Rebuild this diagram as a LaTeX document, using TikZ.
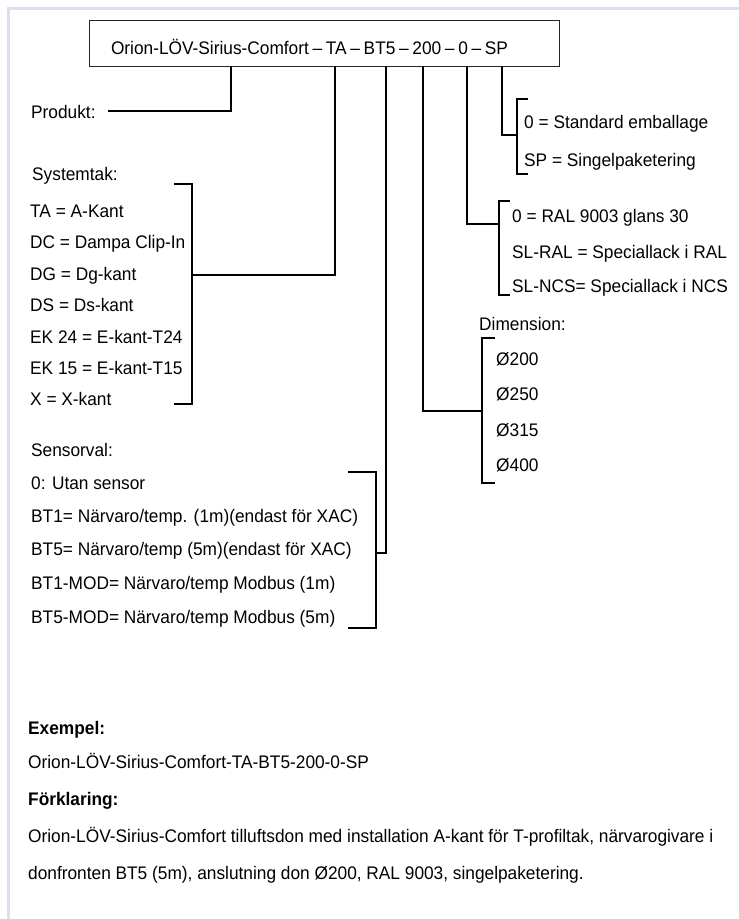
\documentclass[tikz,border=0pt]{standalone}
\usepackage{fontspec}
\setmainfont{Liberation Sans}[FakeStretch=0.95]
\usepackage{tikz}
\usepackage{xcolor}
\definecolor{framebl}{HTML}{DADFF2}

\begin{document}
\begin{tikzpicture}[
  x=1pt, y=-1pt,
  font=\fontsize{18.2}{22}\selectfont,
  lbl/.style={anchor=base west, inner sep=0pt},
  head/.style={anchor=base west, inner sep=0pt, font=\fontsize{18.2}{22}\selectfont\bfseries},
  codebox/.style={draw=black!85, line width=1pt, minimum width=470pt, minimum height=46pt, text width=426pt, align=left, text height=23pt, text depth=0pt, inner sep=0pt},
  ln/.style={line width=1.3pt},
  frame/.style={draw=framebl, line width=2.5pt}
]
\useasboundingbox (0,0) rectangle (739,919);
\draw[frame] (8.7,919) -- (8.7,8.7) -- (739,8.7);
\node[codebox] (code) at (324,43) {\spaceskip=3.7pt plus 1pt Orion-LÖV-Sirius-Comfort – TA – BT5 – 200 – 0 – SP};
\node[lbl] (produkt) at (31,118) {Produkt:};
\node[lbl] (systemtak) at (32,180) {Systemtak:};
\node[lbl] (ta) at (30,217) {TA = A-Kant};
\node[lbl] (dc) at (30,248) {DC = Dampa Clip-In};
\node[lbl] (dg) at (30,280) {DG = Dg-kant};
\node[lbl] (ds) at (30,311) {DS = Ds-kant};
\node[lbl] (ek24) at (30,343) {EK 24 = E-kant-T24};
\node[lbl] (ek15) at (30,374) {EK 15 = E-kant-T15};
\node[lbl] (xk) at (30,405) {X = X-kant};
\node[lbl] (sensorval) at (31,456) {Sensorval:};
\node[lbl] (utan) at (31,489) {0: Utan sensor};
\node[lbl] (bt1) at (31,522) {BT1= Närvaro/temp. (1m)(endast för XAC)};
\node[lbl] (bt5) at (31,555) {BT5= Närvaro/temp (5m)(endast för XAC)};
\node[lbl] (bt1mod) at (31,589) {BT1-MOD= Närvaro/temp Modbus (1m)};
\node[lbl] (bt5mod) at (31,623) {BT5-MOD= Närvaro/temp Modbus (5m)};
\node[lbl] (std) at (524,128) {0 = Standard emballage};
\node[lbl] (singel) at (524,166) {SP = Singelpaketering};
\node[lbl] (ral) at (512,222) {0 = RAL 9003 glans 30};
\node[lbl] (slral) at (512,258) {SL-RAL = Speciallack i RAL};
\node[lbl] (slncs) at (512,292) {SL-NCS= Speciallack i NCS};
\node[lbl] (dimension) at (479,330) {Dimension:};
\node[lbl] (d200) at (496,365) {Ø200};
\node[lbl] (d250) at (496,400) {Ø250};
\node[lbl] (d315) at (496,436) {Ø315};
\node[lbl] (d400) at (496,471) {Ø400};
\node[head] (exempel) at (28,734) {Exempel:};
\node[lbl] (exline) at (28,768) {Orion-LÖV-Sirius-Comfort-TA-BT5-200-0-SP};
\node[head] (forklaring) at (28,805) {Förklaring:};
\node[lbl] (forkl1) at (28,842) {Orion-LÖV-Sirius-Comfort tilluftsdon med installation A-kant för T-profiltak, närvarogivare i};
\node[lbl] (forkl2) at (28,879) {donfronten BT5 (5m), anslutning don Ø200, RAL 9003, singelpaketering.};
\coordinate (tprod) at (231,66);
\coordinate (tta) at (335,66);
\coordinate (tbt) at (386,66);
\coordinate (tdim) at (423,66);
\coordinate (tral) at (467,66);
\coordinate (tsp) at (502,66);
\coordinate (prodend) at (108,111);
\coordinate (sysjoint) at (192,275);
\coordinate (senjoint) at (376,553);
\coordinate (dimjoint) at (482,411);
\coordinate (raljoint) at (499,224);
\coordinate (spjoint) at (517,135);
\draw[ln] (174,184) -| (192,404) -- (174,404);
\draw[ln] (348,472) -| (376,628) -- (348,628);
\draw[ln] (495,338) -| (482,483) -- (495,483);
\draw[ln] (510,201) -| (499,295) -- (510,295);
\draw[ln] (528,99) -| (517,174) -- (528,174);
\draw[ln] (tprod) |- (prodend);
\draw[ln] (tta) |- (sysjoint);
\draw[ln] (tbt) |- (senjoint);
\draw[ln] (tdim) |- (dimjoint);
\draw[ln] (tral) |- (raljoint);
\draw[ln] (tsp) |- (spjoint);
\end{tikzpicture}
\end{document}
